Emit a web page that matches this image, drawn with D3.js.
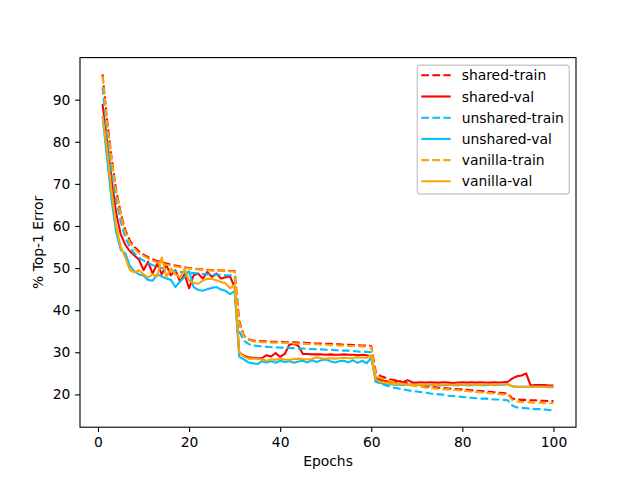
<!DOCTYPE html>
<html>
<head>
<meta charset="utf-8">
<script src="https://cdn.jsdelivr.net/npm/d3@7"></script>
<style>
  body { margin: 0; background: #fff; }
  svg { display: block; font-family: "DejaVu Sans", sans-serif; }
</style>
</head>
<body>
<svg id="chart"></svg>
<script>
// epochs 1..100
var epochs = d3.range(1, 101);

var sharedTrain = [
  96.0, 85.2, 76.0, 68.5, 63.0, 59.0, 56.5, 55.0, 54.0, 53.2,
  52.6, 52.1, 51.7, 51.4, 51.1, 50.8, 50.6, 50.4, 50.2, 50.0,
  49.9, 49.8, 49.7, 49.6, 49.5, 49.5, 49.4, 49.4, 49.3, 49.3,
  37.5, 34.0, 33.1, 32.8, 32.7, 32.6, 32.6, 32.5, 32.5, 32.5,
  32.4, 32.4, 32.4, 32.3, 32.3, 32.2, 32.2, 32.1, 32.1, 32.0,
  32.0, 31.9, 31.9, 31.8, 31.8, 31.7, 31.7, 31.6, 31.6, 31.5,
  25.2, 24.4, 24.0, 23.6, 23.4, 23.1, 22.9, 22.7, 22.5, 22.3,
  22.1, 21.9, 21.8, 21.7, 21.6, 21.5, 21.4, 21.3, 21.2, 21.2,
  21.1, 21.0, 20.9, 20.8, 20.7, 20.6, 20.5, 20.4, 20.3, 20.2,
  19.0, 18.8, 18.7, 18.7, 18.6, 18.6, 18.5, 18.5, 18.4, 18.4
];
var sharedVal = [
  89.0, 80.0, 71.0, 63.0, 58.0, 55.5, 54.0, 53.0, 52.0, 49.5,
  51.5, 48.7, 51.0, 48.5, 50.7, 48.3, 49.5, 46.8, 48.5, 45.2,
  48.3, 48.7, 47.5, 49.1, 47.9, 48.7, 47.5, 47.8, 48.0, 45.5,
  30.0, 29.2, 28.8, 28.7, 28.6, 28.6, 29.3, 29.0, 29.8, 28.9,
  29.6, 31.8, 32.0, 31.5, 29.6, 29.6, 29.5, 29.5, 29.5, 29.4,
  29.5, 29.4, 29.4, 29.5, 29.4, 29.4, 29.3, 29.4, 29.3, 29.0,
  23.8, 23.4, 23.2, 23.0, 22.9, 23.2, 22.9, 23.4, 22.9, 22.8,
  22.9, 22.8, 22.9, 22.8, 22.8, 22.9, 22.8, 22.7, 22.8, 22.9,
  22.8, 22.9, 22.8, 22.9, 22.8, 22.8, 22.9, 22.8, 22.9, 23.0,
  23.8, 24.3, 24.5, 25.0, 22.1, 22.2, 22.2, 22.2, 22.1, 22.1
];
var unsharedTrain = [
  93.0, 82.0, 73.0, 66.0, 61.0, 57.2, 55.0, 53.5, 52.5, 51.8,
  51.2, 50.7, 50.3, 50.0, 49.7, 49.5, 49.3, 49.1, 49.0, 48.9,
  48.8, 48.7, 48.6, 48.5, 48.5, 48.4, 48.4, 48.3, 48.3, 48.2,
  35.0, 32.8, 32.0, 31.6, 31.5, 31.4, 31.3, 31.2, 31.2, 31.1,
  31.1, 31.0, 31.0, 30.9, 30.9, 30.8, 30.8, 30.7, 30.7, 30.6,
  30.6, 30.5, 30.5, 30.4, 30.4, 30.3, 30.2, 30.1, 30.1, 30.0,
  23.0, 22.6, 22.2, 21.9, 21.6, 21.4, 21.2, 21.0, 20.8, 20.7,
  20.5, 20.4, 20.2, 20.1, 20.0, 19.9, 19.7, 19.6, 19.5, 19.4,
  19.3, 19.2, 19.1, 19.0, 19.0, 18.9, 18.8, 18.8, 18.7, 18.6,
  17.3, 16.9, 16.8, 16.7, 16.6, 16.5, 16.5, 16.4, 16.3, 16.2
];
var unsharedVal = [
  86.0, 76.0, 66.0, 58.5, 54.3, 53.5, 50.5, 49.2, 48.5, 48.2,
  47.2, 47.0, 48.5, 48.0, 47.5, 47.2, 45.5, 46.8, 47.8, 49.3,
  45.5, 44.8, 44.6, 45.0, 45.3, 45.5, 44.9, 44.6, 43.8, 44.5,
  29.0, 28.3, 27.6, 27.4, 27.2, 27.9, 27.6, 27.9, 27.5, 28.0,
  27.7, 27.9, 27.5, 27.8, 28.0, 27.6, 28.1, 27.7, 28.1, 28.3,
  27.9, 27.6, 27.9, 28.0, 27.6, 28.1, 27.5, 28.0, 27.4, 28.7,
  23.0, 22.7, 22.5, 22.4, 22.3, 22.3, 22.2, 22.3, 22.2, 22.2,
  22.3, 22.2, 22.2, 22.3, 22.2, 22.2, 22.3, 22.2, 22.2, 22.3,
  22.2, 22.2, 22.3, 22.2, 22.2, 22.3, 22.2, 22.3, 22.3, 22.4,
  21.9, 21.8, 21.8, 21.8, 21.8, 21.8, 21.8, 21.8, 21.7, 21.7
];
var vanillaTrain = [
  95.6, 84.7, 75.5, 68.0, 62.5, 58.5, 56.0, 54.6, 53.6, 52.9,
  52.3, 51.8, 51.4, 51.1, 50.8, 50.6, 50.4, 50.2, 50.0, 49.9,
  49.8, 49.7, 49.6, 49.5, 49.4, 49.4, 49.3, 49.3, 49.2, 49.2,
  37.0, 33.8, 33.0, 32.6, 32.5, 32.4, 32.4, 32.3, 32.3, 32.3,
  32.2, 32.2, 32.1, 32.1, 32.0, 32.0, 31.9, 31.9, 31.8, 31.8,
  31.7, 31.7, 31.6, 31.6, 31.5, 31.5, 31.4, 31.4, 31.3, 31.3,
  24.5, 23.9, 23.5, 23.2, 22.9, 22.7, 22.5, 22.3, 22.1, 21.9,
  21.8, 21.6, 21.5, 21.4, 21.3, 21.2, 21.2, 21.1, 21.0, 20.9,
  20.8, 20.7, 20.6, 20.5, 20.4, 20.3, 20.2, 20.1, 20.0, 19.9,
  18.6, 18.3, 18.2, 18.1, 18.1, 18.0, 18.0, 17.9, 17.9, 17.9
];
var vanillaVal = [
  86.0, 78.0, 68.0, 60.0, 55.0, 52.5, 49.5, 49.0, 49.5, 48.5,
  47.8, 48.5, 48.0, 52.5, 47.9, 49.9, 48.5, 47.8, 49.8, 47.0,
  46.5, 46.3, 47.0, 47.5, 47.4, 47.1, 46.7, 46.4, 45.2, 46.0,
  30.0, 29.0, 28.5, 28.5, 28.4, 28.3, 28.0, 28.3, 28.2, 28.5,
  28.3, 28.2, 28.4, 28.5, 28.4, 28.3, 28.4, 28.8, 28.6, 28.5,
  28.6, 28.5, 28.6, 28.7, 28.6, 28.6, 28.8, 28.7, 28.7, 29.3,
  23.5, 23.0, 22.8, 22.6, 22.5, 22.4, 22.4, 22.3, 22.4, 22.3,
  22.3, 22.4, 22.3, 22.3, 22.3, 22.4, 22.3, 22.3, 22.4, 22.3,
  22.3, 22.4, 22.3, 22.3, 22.4, 22.3, 22.3, 22.4, 22.4, 22.4,
  21.9, 21.8, 21.8, 21.8, 21.8, 21.8, 21.8, 21.8, 21.8, 21.8
];

var seriesNames = ["shared-train", "shared-val", "unshared-train", "unshared-val", "vanilla-train", "vanilla-val"];
var seriesValues = [sharedTrain, sharedVal, unsharedTrain, unsharedVal, vanillaTrain, vanillaVal];
var seriesColors = ["#ff0000", "#ff0000", "#00bfff", "#00bfff", "#ffa500", "#ffa500"];
var seriesDashed = [true, false, true, false, true, false];

var xTicks = [0, 20, 40, 60, 80, 100];
var yTicks = [20, 30, 40, 50, 60, 70, 80, 90];

var width = 640;
var height = 480;
var pt = 100 / 72;
var margin = { left: 80, right: 64, top: 57.6, bottom: 52.8 };
var fontSize = 10 * pt;

var svg = d3.select("#chart")
  .attr("width", width)
  .attr("height", height);

// matplotlib style 5% padding
var xExt = d3.extent(epochs);
var xPad = (xExt[1] - xExt[0]) * 0.05;
var allVals = d3.merge(seriesValues);
var yExt = d3.extent(allVals);
var yPad = (yExt[1] - yExt[0]) * 0.05;

var x = d3.scaleLinear()
  .domain([xExt[0] - xPad, xExt[1] + xPad])
  .range([margin.left, width - margin.right]);
var y = d3.scaleLinear()
  .domain([yExt[0] - yPad, yExt[1] + yPad])
  .range([height - margin.bottom, margin.top]);

var plot = svg.append("g");
plot.append("defs").append("clipPath").attr("id", "clip")
  .append("rect")
  .attr("x", margin.left).attr("y", margin.top)
  .attr("width", width - margin.left - margin.right)
  .attr("height", height - margin.top - margin.bottom);

var line = d3.line()
  .x(function(d, i) { return x(epochs[i]); })
  .y(function(d) { return y(d); });

var lines = plot.append("g").attr("clip-path", "url(#clip)");
seriesValues.forEach(function(vals, k)
{
  lines.append("path")
    .datum(vals)
    .attr("d", line)
    .attr("fill", "none")
    .attr("stroke", seriesColors[k])
    .attr("stroke-width", 1.5 * pt)
    .attr("stroke-linejoin", "round")
    .attr("stroke-dasharray", seriesDashed[k] ? (5.55 * pt) + "," + (2.4 * pt) : null);
});

// axes
var tickLen = 3.5 * pt;
var xAxis = svg.append("g")
  .attr("transform", "translate(0," + (height - margin.bottom) + ")")
  .call(d3.axisBottom(x).tickValues(xTicks).tickSize(tickLen).tickPadding(tickLen).tickSizeOuter(0));
var yAxis = svg.append("g")
  .attr("transform", "translate(" + margin.left + ",0)")
  .call(d3.axisLeft(y).tickValues(yTicks).tickSize(tickLen).tickPadding(tickLen).tickSizeOuter(0));

[xAxis, yAxis].forEach(function(ax)
{
  ax.select(".domain").remove();
  ax.selectAll(".tick line").attr("stroke", "#000").attr("stroke-width", 0.8 * pt);
  ax.selectAll(".tick text")
    .attr("fill", "#000")
    .attr("font-size", fontSize)
    .attr("font-family", "DejaVu Sans");
});

// frame
svg.append("rect")
  .attr("x", margin.left).attr("y", margin.top)
  .attr("width", width - margin.left - margin.right)
  .attr("height", height - margin.top - margin.bottom)
  .attr("fill", "none")
  .attr("stroke", "#000")
  .attr("stroke-width", 0.8 * pt);

// axis labels
svg.append("text")
  .text("Epochs")
  .attr("x", (margin.left + width - margin.right) / 2)
  .attr("y", 466)
  .attr("text-anchor", "middle")
  .attr("font-size", fontSize);
svg.append("text")
  .text("% Top-1 Error")
  .attr("transform", "translate(43," + ((margin.top + height - margin.bottom) / 2) + ") rotate(-90)")
  .attr("text-anchor", "middle")
  .attr("font-size", fontSize);

// legend
var lgX = 417.3, lgY = 65.3, lgW = 152, lgH = 128.7;
var legend = svg.append("g");
legend.append("rect")
  .attr("x", lgX).attr("y", lgY)
  .attr("width", lgW).attr("height", lgH)
  .attr("rx", 2.8).attr("ry", 2.8)
  .attr("fill", "#fff").attr("fill-opacity", 0.8)
  .attr("stroke", "#cccccc").attr("stroke-width", 1 * pt);

var rowH = 21.2;
var entries = legend.selectAll("g.entry")
  .data(seriesNames)
  .enter()
  .append("g")
  .attr("class", "entry")
  .attr("transform", function(d, i) { return "translate(" + lgX + "," + (lgY + 10 + i * rowH) + ")"; });

entries.append("line")
  .attr("x1", 4).attr("x2", 33.4)
  .attr("y1", 0).attr("y2", 0)
  .attr("stroke", function(d, i) { return seriesColors[i]; })
  .attr("stroke-width", 1.5 * pt)
  .attr("stroke-dasharray", function(d, i) { return seriesDashed[i] ? (5.55 * pt) + "," + (2.4 * pt) : null; });

entries.append("text")
  .text(function(d) { return d; })
  .attr("x", 44.4)
  .attr("y", 0)
  .attr("dy", "0.36em")
  .attr("font-size", fontSize);
</script>
</body>
</html>
